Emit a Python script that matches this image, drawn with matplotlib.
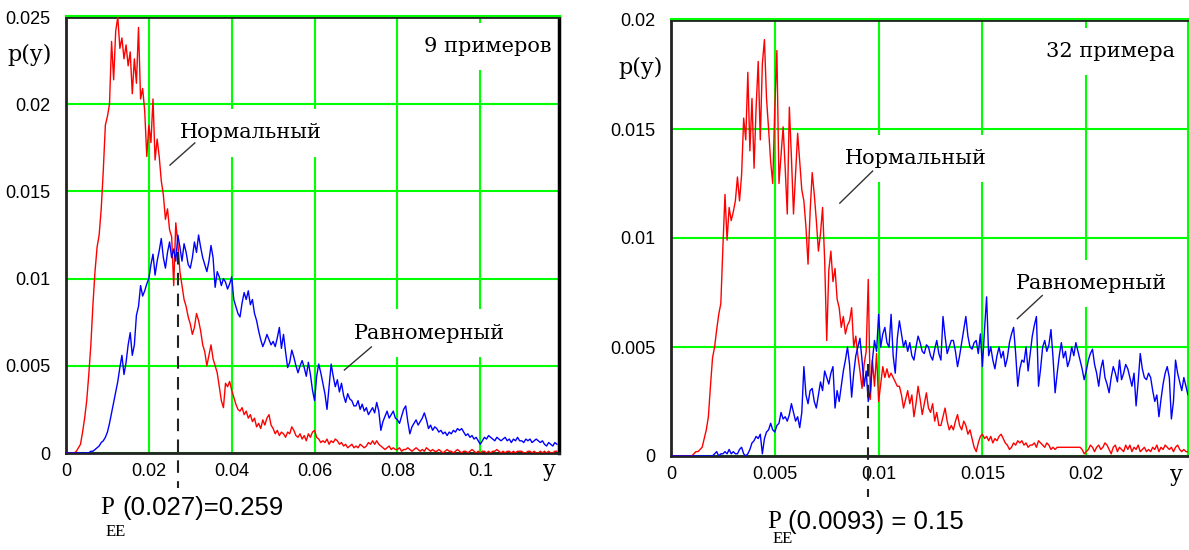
import numpy as np
import matplotlib
matplotlib.use('Agg')
import matplotlib.pyplot as plt
from matplotlib import transforms

# ---- data (densities in units of 1e-4) ----
# left panel: 9 examples, bin step 0.0005
step_left = 0.0005
normal_left = [
    0, 0, 0, 0, 0, 1, 3, 5, 12, 20,
    30, 45, 62, 85, 104, 118, 125, 140, 162, 188,
    193, 200, 236, 214, 242, 250, 232, 238, 226, 234,
    222, 230, 206, 226, 212, 244, 203, 209, 196, 170,
    188, 178, 203, 168, 180, 170, 156, 148, 134, 140,
    128, 124, 96, 132, 120, 104, 96, 88, 84, 78,
    74, 68, 72, 80, 76, 70, 62, 58, 50, 56,
    62, 54, 50, 46, 38, 30, 26, 40, 38, 41,
    36, 32, 28, 25, 24, 26, 22, 24, 20, 22,
    18, 20, 15, 17, 14, 19, 16, 20, 22, 16,
    14, 11, 13, 10, 12, 11, 9, 12, 11, 15,
    13, 10, 9, 11, 8, 10, 7, 11, 9, 12,
    13, 9, 8, 6, 7, 6, 8, 5, 7, 6,
    8, 7, 5, 6, 4, 5, 3, 4, 5, 3,
    4, 3, 5, 4, 3, 4, 6, 5, 7, 5,
    7, 5, 4, 3, 2, 3, 4, 2, 3, 2,
    2, 3, 1, 2, 2, 3, 2, 1, 2, 3,
    2, 1, 2, 1, 3, 2, 1, 2, 1, 1,
    2, 1, 0, 1, 2, 1, 1, 0, 1, 2,
    1, 0, 1, 1, 0, 1, 2, 1, 0, 1,
    0, 1, 1, 0, 1, 0, 1, 1, 2, 1,
    0, 1, 0, 1, 1, 0, 1, 0, 1, 1,
    1, 0, 0, 1, 1, 0, 1, 0, 0, 1,
    0, 1, 0, 1, 0, 0, 1, 1,
]
uniform_left = [
    0, 0, 0, 0, 0, 0, 0, 0, 0, 0,
    0, 0, 1, 1, 2, 3, 4, 6, 7, 9,
    12, 17, 23, 29, 35, 41, 49, 56, 45, 52,
    62, 69, 56, 62, 79, 84, 96, 90, 93, 97,
    100, 108, 114, 102, 110, 116, 123, 112, 106, 115,
    121, 112, 117, 110, 125, 118, 110, 120, 115, 108,
    106, 112, 121, 115, 125, 118, 112, 108, 104, 110,
    119, 112, 95, 104, 101, 96, 100, 98, 94, 97,
    101, 88, 84, 80, 78, 86, 92, 88, 93, 85,
    88, 80, 76, 70, 65, 61, 64, 68, 65, 62,
    64, 61, 66, 72, 60, 68, 58, 49, 52, 59,
    55, 50, 46, 50, 53, 49, 44, 52, 45, 36,
    30, 44, 51, 46, 40, 34, 25, 38, 51, 44,
    38, 42, 35, 40, 33, 29, 34, 31, 30, 27,
    27, 30, 25, 28, 24, 26, 22, 24, 26, 23,
    29, 24, 13, 18, 21, 24, 20, 22, 24, 20,
    19, 17, 21, 25, 27, 18, 11, 15, 17, 19,
    16, 18, 20, 23, 19, 14, 16, 13, 15, 14,
    12, 13, 11, 12, 10, 12, 11, 13, 12, 14,
    13, 14, 12, 10, 11, 9, 10, 8, 9, 7,
    5, 7, 9, 8, 10, 9, 8, 7, 9, 8,
    7, 8, 9, 7, 8, 6, 8, 7, 9, 7,
    7, 6, 8, 7, 8, 6, 7, 8, 7, 6,
    7, 5, 4, 6, 5, 4, 6, 5,
]

# right panel: 32 examples, bin step 0.0001
step_right = 0.0001
normal_right = [
    0, 0, 0, 0, 0, 0, 0, 0, 0, 0,
    0, 1, 2, 2, 3, 4, 8, 12, 18, 32,
    45, 50, 58, 65, 70, 96, 120, 99, 114, 108,
    112, 117, 128, 117, 129, 155, 145, 176, 140, 164,
    132, 160, 181, 145, 180, 191, 164, 150, 135, 125,
    160, 186, 125, 138, 151, 132, 111, 160, 137, 111,
    130, 148, 135, 122, 117, 105, 88, 112, 130, 120,
    108, 94, 102, 114, 90, 53, 85, 94, 80, 86,
    72, 68, 59, 64, 56, 60, 62, 68, 50, 55,
    46, 39, 31, 42, 48, 81, 26, 44, 32, 47,
    25, 33, 41, 36, 40, 36, 38, 36, 34, 32,
    32, 28, 22, 26, 30, 24, 28, 18, 24, 32,
    26, 19, 24, 29, 22, 20, 24, 16, 20, 14,
    14, 18, 22, 16, 12, 14, 12, 16, 19, 14,
    12, 16, 14, 10, 12, 8, 4, 2, 6, 9,
    10, 8, 9, 7, 9, 6, 8, 7, 9, 10,
    8, 6, 5, 3, 4, 6, 5, 7, 6, 7,
    5, 6, 4, 5, 5, 6, 4, 7, 6, 5,
    4, 6, 5, 3, 4, 3, 4, 4, 4, 4,
    4, 4, 4, 4, 4, 4, 4, 4, 3, 1,
    2, 3, 5, 4, 2, 4, 5, 3, 4, 6,
    5, 3, 1, 4, 5, 2, 4, 3, 2, 5,
    3, 5, 2, 4, 3, 5, 2, 3, 4, 2,
    3, 2, 4, 3, 5, 2, 4, 3, 5, 4,
    3, 4, 2, 4, 5, 3, 2, 3, 2, 2, 1,
]
uniform_right = [
    0, 0, 0, 0, 0, 0, 0, 0, 0, 0,
    0, 0, 0, 0, 0, 0, 0, 0, 0, 0,
    0, 1, 2, 0, 1, 1, 2, 1, 3, 1,
    2, 1, 1, 3, 4, 1, 0, 1, 3, 6,
    7, 9, 8, 10, 1, 8, 11, 12, 15, 12,
    11, 14, 15, 20, 17, 18, 16, 19, 24, 20,
    16, 18, 13, 20, 41, 28, 24, 30, 31, 25,
    22, 28, 34, 30, 39, 36, 33, 38, 41, 22,
    30, 25, 32, 39, 44, 50, 42, 27, 38, 46,
    50, 54, 44, 32, 39, 25, 30, 44, 53, 48,
    65, 50, 56, 59, 52, 50, 65, 46, 38, 54,
    62, 56, 50, 53, 48, 52, 46, 44, 50, 55,
    52, 48, 47, 51, 50, 46, 44, 49, 53, 47,
    44, 64, 55, 47, 50, 53, 53, 48, 41, 46,
    52, 58, 64, 55, 50, 49, 52, 53, 47, 56,
    41, 58, 73, 46, 50, 44, 40, 46, 50, 45,
    48, 41, 45, 52, 56, 59, 47, 32, 40, 44,
    43, 50, 39, 47, 55, 60, 64, 32, 40, 50,
    53, 48, 51, 58, 45, 29, 38, 46, 52, 45,
    48, 41, 44, 50, 46, 52, 48, 44, 40, 35,
    39, 44, 47, 49, 42, 38, 32, 40, 44, 36,
    33, 29, 36, 41, 38, 34, 44, 35, 38, 42,
    40, 36, 32, 38, 23, 34, 47, 40, 36, 35,
    38, 36, 30, 25, 28, 18, 26, 33, 38, 41,
    36, 17, 25, 44, 38, 34, 30, 36, 32, 28, 30,
]

xticks_left = [0, 0.02, 0.04, 0.06, 0.08, 0.1]
xticklabels_left = ['0', '0.02', '0.04', '0.06', '0.08', '0.1']
yticks_left = [0, 0.005, 0.01, 0.015, 0.02, 0.025]
yticklabels_left = ['0', '0.005', '0.01', '0.015', '0.02', '0.025']
xticks_right = [0, 0.005, 0.01, 0.015, 0.02]
xticklabels_right = ['0', '0.005', '0.01', '0.015', '0.02']
yticks_right = [0, 0.005, 0.01, 0.015, 0.02]
yticklabels_right = ['0', '0.005', '0.01', '0.015', '0.02']

threshold_left = 0.027
threshold_right = 0.0095

GREEN = '#00ff00'
SERIF = 'DejaVu Serif'
SANS = 'Liberation Sans'

fig = plt.figure(figsize=(11.89, 5.5), dpi=100)
W, H = 1189.0, 550.0


def px(x, y):
    return x / W, 1 - y / H


def setup(ax, xlim, ylim, xt, xtl, yt, ytl, right_green=False):
    ax.set_xlim(*xlim)
    ax.set_ylim(*ylim)
    ax.set_xticks(xt)
    ax.set_xticklabels(xtl, family=SANS, fontsize=13)
    ax.set_yticks(yt)
    ax.set_yticklabels(ytl, family=SANS, fontsize=13)
    ax.tick_params(length=0)
    ax.tick_params(axis='y', pad=11)
    ax.tick_params(axis='x', pad=7)
    ax.grid(True, color=GREEN, lw=1.5)
    ax.set_axisbelow(True)
    for s in ['left', 'bottom', 'top']:
        ax.spines[s].set_linewidth(2)
        ax.spines[s].set_color('#222222')
    if right_green:
        ax.spines['right'].set_color(GREEN)
        ax.spines['right'].set_linewidth(1.5)
    else:
        ax.spines['right'].set_linewidth(2.5)
        ax.spines['right'].set_color('black')
    # green grid line sitting on top of the upper frame
    tr = transforms.offset_copy(ax.transAxes, fig=fig, y=1.5, units='dots')
    ax.plot([0, 1.003], [1, 1], color=GREEN, lw=1.5, transform=tr, clip_on=False, zorder=5)


def label(ax, x, y, s, ha='left'):
    ax.text(x, y, s, family=SERIF, fontsize=15, ha=ha, va='center', zorder=2,
            bbox=dict(boxstyle='square,pad=0.68', fc='white', ec='none'))


# ---------------- left panel ----------------
ax1 = fig.add_axes([66 / W, 1 - 453 / H, (559 - 66) / W, (453 - 17) / H])
x1 = np.arange(len(normal_left)) * step_left
ax1.plot(x1, np.array(normal_left) * 1e-4, color='red', lw=1.0, zorder=3)
ax1.plot(x1, np.array(uniform_left) * 1e-4, color='blue', lw=1.0, zorder=3)
setup(ax1, (0, 0.119), (0, 0.025), xticks_left, xticklabels_left,
      yticks_left, yticklabels_left)

label(ax1, 0.0275, 0.01835, 'Нормальный')
ax1.plot([0.0251, 0.0311], [0.01651, 0.01778], color='#333333', lw=1, zorder=4)
label(ax1, 0.0696, 0.00688, 'Равномерный')
ax1.plot([0.0672, 0.0737], [0.00476, 0.00608], color='#333333', lw=1, zorder=4)
label(ax1, 0.1173, 0.0233, '9 примеров', ha='right')
ax1.text(-0.118, 0.0228, 'p(y)', family=SERIF, fontsize=16, va='center',
         transform=ax1.get_yaxis_transform(), clip_on=False)
ax1.text(0.1166, -0.001, 'y', family=SERIF, fontsize=16, ha='center', va='center',
         clip_on=False)
ax1.plot([threshold_left, threshold_left], [0.0115, -0.002], color='#222222',
         lw=1.5, dashes=(6, 4), clip_on=False, zorder=4)

# ---------------- right panel ----------------
ax2 = fig.add_axes([671 / W, 1 - 456 / H, (1188 - 671) / W, (456 - 20) / H])
x2 = np.arange(len(normal_right)) * step_right
ax2.plot(x2, np.array(normal_right) * 1e-4, color='red', lw=1.0, zorder=3)
ax2.plot(x2, np.array(uniform_right) * 1e-4, color='blue', lw=1.0, zorder=3)
setup(ax2, (0, 0.0249), (0, 0.02), xticks_right, xticklabels_right,
      yticks_right, yticklabels_right, right_green=True)

label(ax2, 0.00837, 0.01366, 'Нормальный')
ax2.plot([0.00813, 0.00971], [0.0116, 0.01307], color='#333333', lw=1, zorder=4)
label(ax2, 0.01663, 0.0079, 'Равномерный')
ax2.plot([0.01668, 0.01788], [0.0063, 0.00736], color='#333333', lw=1, zorder=4)
label(ax2, 0.02428, 0.01855, '32 примера', ha='right')
ax2.text(-0.102, 0.0178, 'p(y)', family=SERIF, fontsize=16, va='center',
         transform=ax2.get_yaxis_transform(), clip_on=False)
ax2.text(0.02433, -0.00087, 'y', family=SERIF, fontsize=16, ha='center', va='center',
         clip_on=False)
ax2.plot([threshold_right, threshold_right], [0.0042, -0.0019], color='#222222',
         lw=1.5, dashes=(6, 4), clip_on=False, zorder=4)

# ---------------- error probability captions ----------------
fig.text(*px(100, 508), 'P', family='Liberation Serif', fontsize=18, va='center')
fig.text(*px(122, 508), '(0.027)=0.259', family=SANS, fontsize=18.5, va='center')
fig.text(*px(106, 532), 'EE', family='Liberation Serif', fontsize=12, va='center')

fig.text(*px(767, 522), 'P', family='Liberation Serif', fontsize=18, va='center')
fig.text(*px(788, 522), '(0.0093) = 0.15', family=SANS, fontsize=18.5, va='center')
fig.text(*px(773, 539), 'EE', family='Liberation Serif', fontsize=12, va='center')

fig.savefig('out.png', dpi=100)
